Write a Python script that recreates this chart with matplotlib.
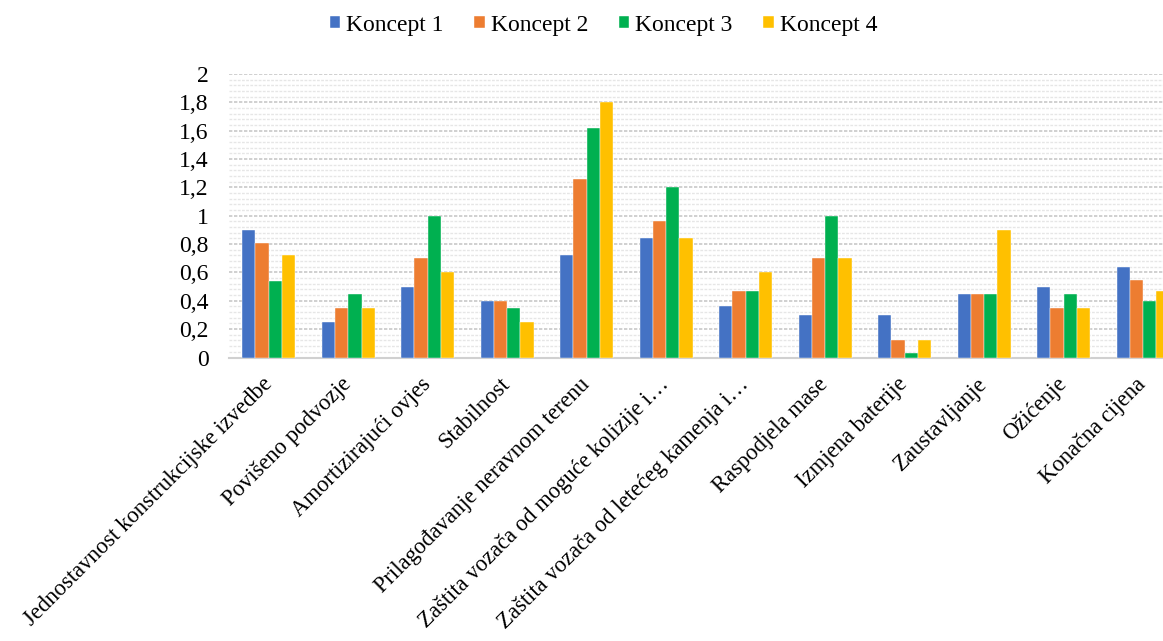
import numpy as np
import matplotlib.pyplot as plt
from matplotlib.ticker import MultipleLocator, FuncFormatter

categories = [
    "Jednostavnost konstrukcijske izvedbe",
    "Povišeno podvozje",
    "Amortizirajući ovjes",
    "Stabilnost",
    "Prilagođavanje neravnom terenu",
    "Zaštita vozača od moguće kolizije i…",
    "Zaštita vozača od letećeg kamenja i…",
    "Raspodjela mase",
    "Izmjena baterije",
    "Zaustavljanje",
    "Ožićenje",
    "Konačna cijena",
]
koncept1 = [0.90, 0.25, 0.50, 0.40, 0.72, 0.84, 0.36, 0.30, 0.30, 0.45, 0.50, 0.64]
koncept2 = [0.81, 0.35, 0.70, 0.40, 1.26, 0.96, 0.47, 0.70, 0.12, 0.45, 0.35, 0.55]
koncept3 = [0.54, 0.45, 1.00, 0.35, 1.62, 1.20, 0.47, 1.00, 0.03, 0.45, 0.45, 0.40]
koncept4 = [0.72, 0.35, 0.60, 0.25, 1.80, 0.84, 0.60, 0.70, 0.12, 0.90, 0.35, 0.47]
series = ["Koncept 1", "Koncept 2", "Koncept 3", "Koncept 4"]
colors = ["#4472C4", "#ED7D31", "#00B050", "#FFC000"]

plt.rcParams['font.family'] = ['Liberation Serif', 'DejaVu Serif']

fig = plt.figure(figsize=(11.63, 6.41), dpi=100)
ax = fig.add_axes([229/1163, 1 - 357.5/641, 1 - 229/1163, (357.5 - 74)/641])

x = np.arange(len(categories))
w = 0.167
for i, (vals, name, c) in enumerate(zip([koncept1, koncept2, koncept3, koncept4], series, colors)):
    ax.bar(x + (i - 1.5) * w, vals, w, color=c, label=name, edgecolor='white', linewidth=0.3, zorder=3)

ax.set_xlim(-0.5, 11.25)
ax.set_ylim(0, 2)
ax.yaxis.set_major_locator(MultipleLocator(0.2))
ax.yaxis.set_minor_locator(MultipleLocator(0.04))
ax.yaxis.set_major_formatter(FuncFormatter(lambda v, p: f"{v:.1f}".replace(".", ",").replace(",0", "") if v not in (0,) else "0"))
ax.grid(axis='y', which='major', color='#c8c8c8', linestyle=(0, (2, 1)), linewidth=1.2, zorder=0)
ax.grid(axis='y', which='minor', color='#e6e6e6', linestyle=(0, (2, 1)), linewidth=1.0, zorder=0)

for s in ['top', 'right', 'left']:
    ax.spines[s].set_visible(False)
ax.spines['bottom'].set_color('#d0d0d0')
ax.spines['bottom'].set_linewidth(1.5)

ax.tick_params(axis='y', which='both', length=0, pad=14.5, labelsize=17)
ax.tick_params(axis='x', length=0, pad=17)
ax.set_xticks(x)
ax.set_xticklabels(categories, rotation=45, ha='right', va='center', rotation_mode='anchor', fontsize=16.3)

fig.legend(loc='center', bbox_to_anchor=(603.5/1163, 1 - 25/641), ncol=4, frameon=False, fontsize=17,
           handlelength=0.45, handleheight=0.45, handletextpad=0.25, columnspacing=1.3, borderpad=0)

fig.savefig("out.png", dpi=100)
